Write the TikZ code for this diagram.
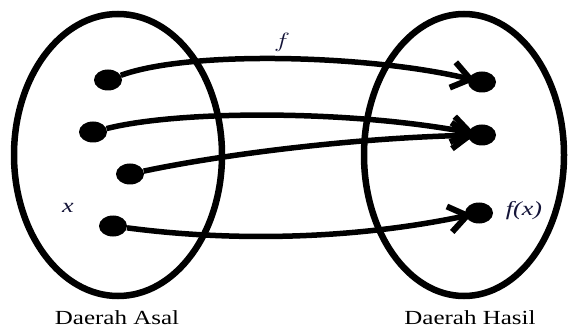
\documentclass[tikz,border=0pt]{standalone}
\usepackage{fontspec}
\setmainfont{Liberation Serif}
\usepackage{graphicx}
\usetikzlibrary{arrows.meta,shapes.geometric}
\definecolor{labelblue}{rgb}{0.08,0.08,0.22}

\begin{document}
\begin{tikzpicture}[
    x=1pt, y=-1pt,
    >={Straight Barb[length=18pt,width=26pt,line width=6pt]},
    set/.style={draw, line width=6.5pt},
    dot/.style={ellipse, fill, inner sep=0pt, minimum width=28pt, minimum height=21pt},
    map/.style={->, line width=5.5pt, shorten >=-7pt},
    lbl/.style={text=labelblue, font=\fontsize{20}{22}\selectfont\itshape, inner sep=0pt},
    setname/.style={font=\fontsize{20}{22}\selectfont, inner sep=0pt}
  ]
    \useasboundingbox (0,0) rectangle (570,331);
    % the two sets
    \draw[set] (118,155) ellipse [x radius=104, y radius=141];
    \draw[set] (464,155) ellipse [x radius=100, y radius=141];
    % elements of the domain
    \node[dot] (a1) at (108,80) {};
    \node[dot] (a2) at (93,132) {};
    \node[dot] (a3) at (130,174) {};
    \node[dot] (a4) at (113,226) {};
    % elements of the codomain
    \node[dot] (b1) at (482,82) {};
    \node[dot] (b2) at (482,135) {};
    \node[dot] (b3) at (479,213) {};
    % mapping
    \draw[map] (a1) .. controls (190,50) and (370,55) .. (b1);
    \draw[map] (a2) .. controls (180,110) and (350,110) .. (b2);
    \draw[map] (a3) .. controls (220,155) and (350,138) .. (b2);
    \draw[map] (a4) .. controls (250,244) and (370,236) .. (b3);
    % labels
    \node[lbl] (f) at (282,42) {\scalebox{1.3}[1]{$f$}};
    \node[lbl] (x) at (68,208) {\scalebox{1.3}[1]{x}};
    \node[lbl] (fx) at (524,211) {\scalebox{1.3}[1]{f(x)}};
    \node[setname] (asal) at (117,318) {\scalebox{1.25}[1]{Daerah Asal}};
    \node[setname] (hasil) at (470,318) {\scalebox{1.25}[1]{Daerah Hasil}};
\end{tikzpicture}
\end{document}
